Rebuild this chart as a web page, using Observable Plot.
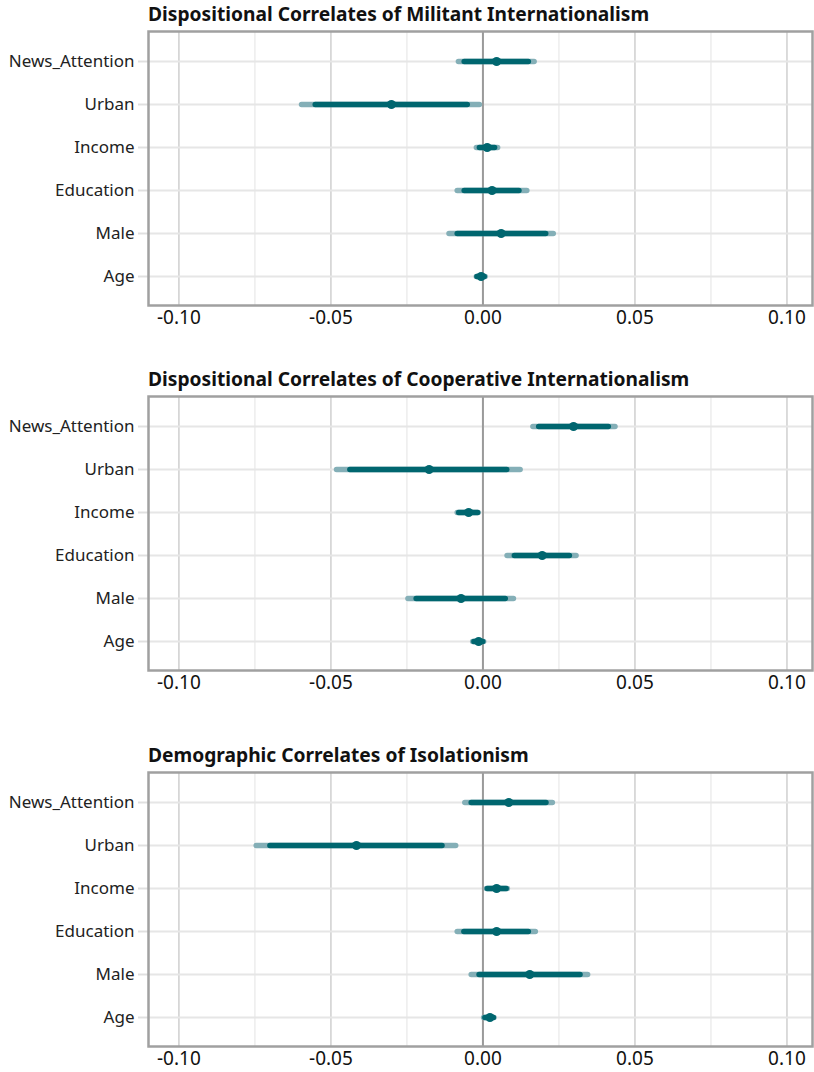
<!DOCTYPE html>
<html><head><meta charset="utf-8">
<script src="https://cdn.jsdelivr.net/npm/d3@7"></script>
<script src="https://cdn.jsdelivr.net/npm/@observablehq/plot@0.6"></script>
<style>
body{margin:0;background:#fff;font-family:"Noto Sans",sans-serif;}
.panel{position:absolute;left:0;width:814px;}
.title{position:absolute;left:148px;font-weight:bold;font-size:19.2px;line-height:20px;color:#111;white-space:nowrap;}
.chart{position:absolute;left:0;}
</style></head><body>
<div id="root"></div>
<script>
// ---- data ----
const variables = ["News_Attention","Urban","Income","Education","Male","Age"];
const titles = [
  "Dispositional Correlates of Militant Internationalism",
  "Dispositional Correlates of Cooperative Internationalism",
  "Demographic Correlates of Isolationism"
];
// point estimates (order as variables)
const estimates = [
  [0.0045, -0.0301, 0.0014, 0.0030, 0.0060, -0.0006],
  [0.0298, -0.0177, -0.0047, 0.0195, -0.0072, -0.0014],
  [0.0085, -0.0416, 0.0045, 0.0045, 0.0154, 0.0023]
];
// inner (dark) interval
const innerLow = [
  [-0.0060, -0.0550, -0.0010, -0.0060, -0.0083, -0.0018],
  [0.0185, -0.0436, -0.0078, 0.0105, -0.0218, -0.0028],
  [-0.0037, -0.0699, 0.0016, -0.0061, -0.0011, 0.0008]
];
const innerHigh = [
  [0.0151, -0.0050, 0.0040, 0.0120, 0.0208, 0.0006],
  [0.0414, 0.0080, -0.0016, 0.0286, 0.0075, 0.0001],
  [0.0209, -0.0133, 0.0078, 0.0151, 0.0321, 0.0036]
];
// outer (light) interval
const outerLow = [
  [-0.0079, -0.0595, -0.0020, -0.0083, -0.0110, -0.0020],
  [0.0166, -0.0480, -0.0083, 0.0081, -0.0245, -0.0032],
  [-0.0058, -0.0744, 0.0013, -0.0083, -0.0037, 0.0004]
];
const outerHigh = [
  [0.0170, -0.0010, 0.0050, 0.0146, 0.0233, 0.0009],
  [0.0436, 0.0124, -0.0014, 0.0308, 0.0102, 0.0004],
  [0.0230, -0.0088, 0.0082, 0.0174, 0.0346, 0.0038]
];
const xTicks = [-0.10, -0.05, 0, 0.05, 0.10];
const xMinorTicks = [-0.075, -0.025, 0.025, 0.075];

// ---- layout ----
const panelTops = [0, 365, 741];
const root = document.getElementById("root");

titles.forEach((t, i) => {
  const rows = variables.map((v, j) => ({
    v, est: estimates[i][j],
    lo: innerLow[i][j], hi: innerHigh[i][j],
    lo2: outerLow[i][j], hi2: outerHigh[i][j]
  }));
  const panel = document.createElement("div");
  panel.className = "panel";
  panel.style.top = panelTops[i] + "px";
  const title = document.createElement("div");
  title.className = "title";
  title.style.top = "4px";
  title.textContent = t;
  panel.appendChild(title);

  const chart = Plot.plot({
    width: 814,
    height: 315,
    marginTop: 6,
    marginBottom: 35,
    marginLeft: 148,
    marginRight: 2,
    style: {fontFamily: "'Noto Sans', sans-serif", color: "#222", background: "transparent"},
    x: {domain: [-0.11, 0.1084]},
    y: {type: "point", domain: variables, padding: 0.63},
    marks: [
      Plot.ruleX(xMinorTicks, {stroke: "#e8e8e8", strokeWidth: 1.2}),
      Plot.ruleX(xTicks, {stroke: "#d2d2d2", strokeWidth: 1.6}),
      Plot.ruleY(variables, {y: d => d, stroke: "#e6e6e6", strokeWidth: 2}),
      Plot.ruleX([0], {stroke: "#9a9a9a", strokeWidth: 2}),
      Plot.ruleY(rows, {y: "v", x1: "lo2", x2: "hi2", stroke: "#84afb7", strokeWidth: 5.5, strokeLinecap: "round"}),
      Plot.ruleY(rows, {y: "v", x1: "lo", x2: "hi", stroke: "#00666f", strokeWidth: 5.5, strokeLinecap: "round"}),
      Plot.dot(rows, {x: "est", y: "v", r: 4.5, fill: "#00666f"}),
      Plot.axisY({tickSize: 10, tickPadding: 4, stroke: "#e0e0e0", strokeWidth: 2, fontSize: 17, label: null, fill: "#222"}),
      Plot.axisX(xTicks, {tickSize: 0, tickPadding: 5, fontSize: 19, label: null, fill: "#111", tickFormat: d => d.toFixed(2)}),
      Plot.frame({stroke: "#a0a0a0", strokeWidth: 2.5})
    ]
  });
  chart.classList.add("chart");
  chart.style.top = "25px";
  panel.appendChild(chart);
  root.appendChild(panel);
});
</script>
</body></html>
